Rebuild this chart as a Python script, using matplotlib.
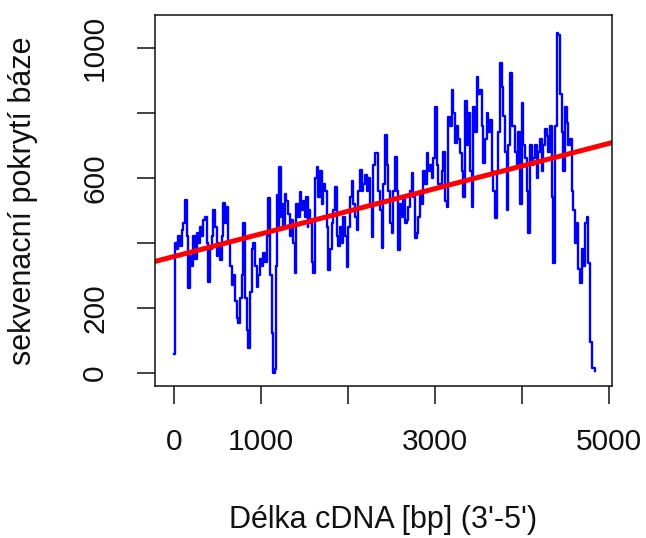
import matplotlib
matplotlib.use("Agg")
import matplotlib.pyplot as plt

plt.rcParams['font.family'] = ['Liberation Sans', 'DejaVu Sans']

# coverage (position in bp, coverage)
pos_bp = [0, 8, 11, 31, 50, 69, 88, 107, 126, 146, 165, 184, 203, 222, 241, 261,
          280, 299, 318, 337, 356, 375, 395, 414, 433, 452, 471, 490, 510, 529,
          548, 567, 586, 605, 624, 644, 663, 682, 701, 720, 739, 758, 778, 797,
          816, 835, 854, 873, 893, 912, 931, 950, 969, 988, 1008, 1027, 1046,
          1065, 1084, 1103, 1123, 1142, 1161, 1172, 1188, 1199, 1210, 1226, 1234,
          1253, 1272, 1292, 1311, 1330, 1349, 1368, 1387, 1406, 1425, 1444, 1464,
          1483, 1502, 1521, 1540,
          1544, 1563, 1582, 1601, 1620, 1640, 1659, 1678, 1697, 1716, 1735, 1755,
          1774, 1793, 1812, 1831, 1850, 1869, 1889, 1908, 1927, 1946, 1965, 1984,
          2004, 2023, 2042, 2061, 2080, 2099, 2118, 2137, 2157, 2176, 2195, 2214,
          2233, 2252, 2272, 2291, 2310, 2329, 2348, 2367, 2386, 2406, 2425, 2444,
          2463, 2482, 2501, 2520, 2540, 2559, 2578, 2597, 2616, 2635, 2654, 2674,
          2693, 2712, 2731, 2750, 2769, 2789, 2808, 2827, 2846, 2865, 2884, 2903,
          2923, 2942, 2961, 2980, 2999, 3018, 3037, 3057, 3076, 3095, 3114, 3133,
          3152, 3171,
          3191, 3210, 3229, 3249, 3268, 3287, 3306, 3325, 3344, 3363, 3383, 3402,
          3421, 3440, 3459, 3478, 3497, 3517, 3536, 3555, 3574, 3593, 3612, 3632,
          3651, 3670, 3689, 3708, 3727, 3746, 3766, 3785, 3804, 3823, 3842, 3861,
          3880, 3900, 3919, 3938, 3957, 3976, 3995, 4015, 4034, 4053, 4072, 4091,
          4110, 4130, 4149, 4168, 4187, 4206, 4225, 4244, 4264, 4283, 4302, 4321,
          4340, 4359, 4379, 4398, 4417, 4436, 4455, 4474, 4493, 4513, 4532, 4551,
          4570, 4589, 4608, 4627, 4647, 4666, 4685, 4704, 4723, 4742, 4761, 4780,
          4800, 4819, 4838]
coverage = [57, 168, 400, 380, 420, 390, 440, 460, 532, 420, 260, 360, 330, 420,
            350, 430, 400, 450, 420, 470, 479, 400, 279, 380, 420, 501, 450, 360,
            400, 347, 420, 522, 460, 510, 400, 330, 270, 300, 220, 170, 152, 230,
            300, 460, 230, 131, 76, 250, 380, 400, 330, 265, 300, 350, 330, 370,
            340, 420, 538, 300, 122, 0, 10, 330, 547, 450, 634, 480, 520, 450, 550,
            530, 490, 420, 470, 400, 307, 520, 480, 557, 500, 530, 480, 540, 450,
            500, 460, 340, 307, 600, 634, 540, 620, 520, 580, 560, 450, 316, 380,
            460, 500, 572, 420, 390, 450, 400, 480, 420, 326, 450, 540, 590, 520,
            480, 439, 560, 624, 560, 580, 610, 560, 600, 520, 418, 640, 677, 677,
            560, 500, 384, 580, 732, 640, 560, 460, 430, 560, 665, 560, 378, 520,
            480, 540, 460, 470, 510, 560, 614, 540, 415, 430, 480, 560, 520, 620,
            580, 677, 620, 640, 600, 660, 819, 640, 580, 580, 620, 680, 530, 511,
            788, 760,
            871, 800, 707, 760, 720, 677, 620, 541, 837, 700, 800, 620, 511, 820,
            740, 912, 860, 870, 760, 645, 720, 800, 740, 780, 620, 560, 477, 620,
            740, 954, 880, 790, 680, 501, 700, 922, 760, 760, 680, 640, 740, 520,
            830, 700, 660, 560, 430, 700, 640, 660, 700, 600, 680, 720, 620, 700,
            750, 730, 680, 760, 540, 337, 760, 1047, 1040, 860, 740, 620, 820, 770,
            700, 720, 560, 500, 400, 460, 320, 276, 380, 330, 460, 480, 337, 94,
            15, 15, 5]

# linear fit shown in red
fit_intercept = 358
fit_slope = 0.0697

x_ticks = [0, 1000, 2000, 3000, 4000, 5000]
x_labels = ['0', '1000', '', '3000', '', '5000']
y_ticks = [0, 200, 400, 600, 800, 1000]
y_labels = ['0', '200', '', '600', '', '1000']

fig = plt.figure(figsize=(6.46, 5.38), dpi=100)
ax = fig.add_axes([155 / 646, 1 - 386 / 538, 457 / 646, 371 / 538])

ax.plot(pos_bp, coverage, color='#0000ff', lw=1.7, drawstyle='steps-post')
ax.axline((0, fit_intercept), slope=fit_slope, color='#ff0000', lw=3.6)

ax.set_xlim(-218, 5034)
ax.set_ylim(-41, 1102)

ax.set_xticks(x_ticks)
ax.set_xticklabels(x_labels)
ax.set_yticks(y_ticks)
ax.set_yticklabels(y_labels, rotation=90, va='center')

ax.tick_params(axis='both', direction='out', length=13, width=1.1,
               labelsize=21.5, colors='#111111')
ax.tick_params(axis='x', pad=17)
ax.tick_params(axis='y', pad=20)
for s in ax.spines.values():
    s.set_linewidth(1.1)
    s.set_color('#111111')

ax.set_xlabel("Délka cDNA [bp] (3'-5')", fontsize=22, color='#111111')
ax.set_ylabel("sekvenacní pokrytí báze", fontsize=22, color='#111111')
ax.xaxis.set_label_coords(0.5, -0.361)
ax.yaxis.set_label_coords(-0.289, 0.5)
ax.xaxis.label.set_va('center')
ax.yaxis.label.set_va('center')

fig.savefig('out.png', dpi=100)
